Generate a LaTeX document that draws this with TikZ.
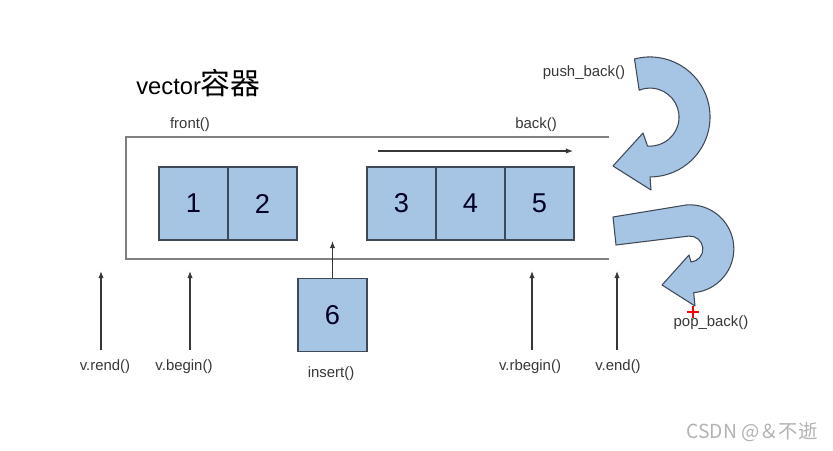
\documentclass[tikz,border=0pt]{standalone}
\usepackage{fontspec}
\setmainfont{Liberation Sans}
\newfontfamily\cjk{Noto Sans CJK SC}
\usetikzlibrary{arrows.meta, positioning}

\definecolor{cellblue}{RGB}{166,196,228}
\definecolor{celledge}{RGB}{62,72,86}
\definecolor{wallgray}{RGB}{128,128,128}
\definecolor{inkgray}{RGB}{55,55,55}

\begin{document}
\begin{tikzpicture}[
  lbl/.style={font=\fontsize{8.5}{10}\selectfont, text=inkgray, inner sep=1pt},
  cell/.style={draw=celledge, fill=cellblue, line width=0.7pt,
               minimum width=1.38cm, minimum height=1.46cm, inner sep=0pt,
               font=\fontsize{15.5}{18}\selectfont, text=black!85!blue},
  wall/.style={draw=wallgray, line width=0.8pt},
  ptr/.style={draw=inkgray, line width=0.6pt, -{Latex[length=4pt,width=3pt]}},
  uturn/.style={draw=celledge, fill=cellblue, line width=0.6pt, line join=round},
]
\useasboundingbox (0,0) rectangle (16.66,-9);

\node[anchor=west, inner sep=0pt, font=\fontsize{13.5}{16}\selectfont] (title) at (2.72,-1.66)
  {vector{\cjk\fontsize{17}{19}\selectfont 容器}};

% the container, open on the right
\draw[wall] (12.18,-2.74) -- (2.52,-2.74) -- (2.52,-5.18) -- (12.18,-5.18);

\node[lbl] (front) at (3.80,-2.50) {front()};
\node[lbl] (back)  at (10.72,-2.50) {back()};

\coordinate (flowL) at (7.56,-3.02);
\coordinate (flowR) at (11.46,-3.02);
\draw[ptr] (flowL) -- (flowR);

\node[cell] (b1) at (3.87,-4.07)  {1};
\node[cell] (b2) at (5.25,-4.07)  {2};
\node[cell] (b3) at (8.03,-4.07)  {3};
\node[cell] (b4) at (9.41,-4.07)  {4};
\node[cell] (b5) at (10.79,-4.07) {5};
\node[cell] (b6) at (6.65,-6.30)  {6};

\node[lbl] (insert) at (6.62,-7.48) {insert()};
\coordinate (slot) at (6.65,-4.82);
\draw[ptr] (b6.north) -- (slot);

% iterators
\node[lbl] (rend)   at (2.10,-7.34)  {v.rend()};
\node[lbl] (begin)  at (3.68,-7.34)  {v.begin()};
\node[lbl] (rbegin) at (10.60,-7.34) {v.rbegin()};
\node[lbl] (end)    at (12.36,-7.34) {v.end()};

\coordinate (rendtip)   at (2.02,-5.42);
\coordinate (begintip)  at (3.80,-5.42);
\coordinate (rbegintip) at (10.64,-5.42);
\coordinate (endtip)    at (12.34,-5.42);

\draw[ptr, shorten <=4.5pt] (rend.north -| rendtip) -- (rendtip);
\draw[ptr, shorten <=4.5pt] (begin.north -| begintip) -- (begintip);
\draw[ptr, shorten <=4.5pt] (rbegin.north -| rbegintip) -- (rbegintip);
\draw[ptr, shorten <=4.5pt] (end.north -| endtip) -- (endtip);

% push_back / pop_back
\node[lbl] (push) at (11.68,-1.46) {push\_back()};
\node[lbl] (pop)  at (14.22,-6.46) {pop\_back()};

\draw[uturn] (12.69,-1.18) arc[start angle=105, end angle=-90, radius=1.2]
  -- (13.02,-3.80) -- (12.26,-3.32) -- (12.86,-2.66) -- (12.95,-2.92)
  arc[start angle=-95, end angle=112, radius=0.58] -- cycle;

\draw[uturn] (12.26,-4.34) -- (13.72,-4.10)
  arc[start angle=95, end angle=-85, radius=0.88]
  -- (13.90,-6.12) -- (13.24,-5.70) -- (13.78,-5.10) -- (13.82,-5.24)
  arc[start angle=-85, end angle=95, radius=0.26] -- (12.32,-4.90) -- cycle;

\draw[red, line width=1.3pt] (13.74,-6.24) -- (13.98,-6.24) (13.86,-6.12) -- (13.86,-6.36);

\node[font=\cjk\fontsize{11}{13}\selectfont, text=black!30] (mark) at (15.04,-8.64) {CSDN @＆不逝};

\end{tikzpicture}
\end{document}
